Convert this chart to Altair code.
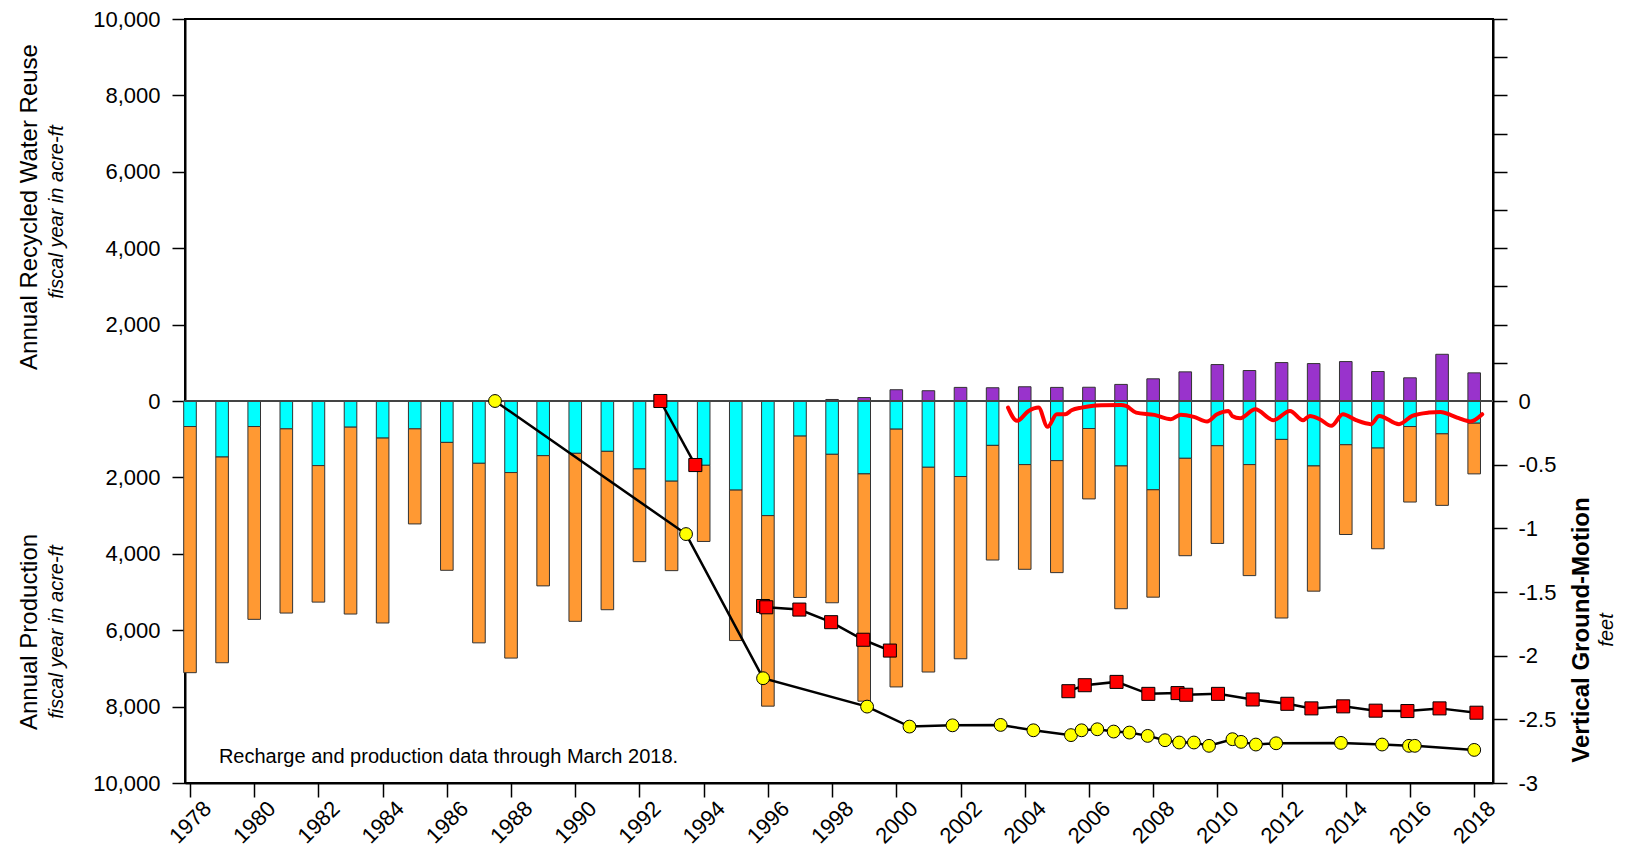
import altair as alt
import pandas as pd

FONT = "Liberation Sans"

# ---------------- data ----------------
years = list(range(1978, 2019))
# cyan portion (acre-ft, plotted downward from 0)
cyan_af = [668, 1466, 668, 729, 1691, 685, 971, 729, 1084, 1631,
           1873, 1431, 1370, 1318, 1778, 2099, 1683, 2333, 3001, 919,
           1396, 1908, 737, 1735, 1977, 1162, 1665, 1561, 720, 1700,
           2324, 1500, 1171, 1665, 1006, 1700, 1145, 1232, 668, 859, 581]
# orange portion (acre-ft, stacked below the cyan portion)
orange_af = [6444, 5386, 5048, 4822, 3574, 4892, 4840, 2489, 3348, 4700,
             4857, 3409, 4398, 4146, 2428, 2342, 1994, 3938, 4987, 4224,
             3886, 5950, 6748, 5360, 4771, 3001, 2741, 2932, 1843, 3738,
             2811, 2550, 2558, 2906, 4675, 3278, 2350, 2636, 1977, 1873, 1327]
# recycled water reuse (purple, upward)
recycled_years = list(range(1998, 2019))
recycled_af = [40, 90, 295, 269, 356, 347, 373, 356, 360, 434, 581,
               763, 954, 798, 1006, 980, 1032, 772, 607, 1223, 737]

# vertical ground motion (feet)
yellow_years = [1987.5, 1993.45, 1995.85, 1999.09, 2000.41, 2001.75, 2003.25,
                2004.27, 2005.44, 2005.77, 2006.26, 2006.77, 2007.26, 2007.83,
                2008.37, 2008.81, 2009.27, 2009.74, 2010.47, 2010.74, 2011.2,
                2011.83, 2013.85, 2015.13, 2015.97, 2016.15, 2018.0]
yellow_ft = [0.0, -1.045, -2.177, -2.40, -2.557, -2.547, -2.544,
             -2.586, -2.624, -2.586, -2.578, -2.596, -2.604, -2.63,
             -2.664, -2.682, -2.682, -2.708, -2.656, -2.677, -2.698,
             -2.688, -2.685, -2.698, -2.708, -2.708, -2.74]

red_seg1_years = [1992.65, 1993.74]
red_seg1_ft = [0.0, -0.503]
red_seg2_years = [1995.85, 1995.95, 1996.98, 1997.97, 1998.97, 1999.8]
red_seg2_ft = [-1.61, -1.62, -1.638, -1.737, -1.875, -1.96]
red_seg3_years = [2005.36, 2005.87, 2006.86, 2007.85, 2008.76, 2009.03, 2010.02,
                  2011.1, 2012.18, 2012.93, 2013.92, 2014.93, 2015.92, 2016.92, 2018.07]
red_seg3_ft = [-2.279, -2.232, -2.206, -2.3, -2.294, -2.307, -2.3,
               -2.344, -2.378, -2.414, -2.398, -2.432, -2.435, -2.414, -2.448]

cont_years = [2003.48, 2003.76, 2004.12, 2004.43, 2004.71, 2005.0, 2005.26, 2005.46,
              2005.77, 2006.08, 2006.39, 2007.0, 2007.16, 2007.47, 2008.04, 2008.55,
              2008.86, 2009.27, 2009.68, 2009.99, 2010.35, 2010.46, 2010.71, 2011.18,
              2011.75, 2012.26, 2012.67, 2012.88, 2013.19, 2013.55, 2013.91, 2014.32,
              2014.78, 2015.04, 2015.66, 2016.07, 2016.59, 2016.95, 2017.26, 2017.52,
              2017.88, 2018.25]
cont_ft = [-0.052, -0.156, -0.078, -0.052, -0.203, -0.104, -0.104, -0.073,
           -0.052, -0.039, -0.034, -0.031, -0.039, -0.091, -0.109, -0.143,
           -0.107, -0.125, -0.161, -0.104, -0.078, -0.117, -0.135, -0.065,
           -0.151, -0.078, -0.151, -0.117, -0.143, -0.195, -0.104, -0.151,
           -0.182, -0.117, -0.182, -0.117, -0.091, -0.086, -0.109, -0.135,
           -0.161, -0.104]

left_title_top = ["Annual Recycled Water Reuse", "fiscal year in acre-ft"]
left_title_bottom = ["Annual Production", "fiscal year in acre-ft"]
right_title = ["Vertical Ground-Motion", "feet"]
note_text = "Recharge and production data through March 2018."

# ---------------- tables ----------------
rows = []
for y, c, o in zip(years, cyan_af, orange_af):
    rows.append({"year": y, "kind": "cyan", "top": 0, "bottom": -c})
    rows.append({"year": y, "kind": "orange", "top": -c, "bottom": -(c + o)})
for y, r in zip(recycled_years, recycled_af):
    rows.append({"year": y, "kind": "purple", "top": 0, "bottom": r})
bars_df = pd.DataFrame(rows)

yellow_df = pd.DataFrame({"year": yellow_years, "ft": yellow_ft, "seg": "y"})
red_df = pd.concat([
    pd.DataFrame({"year": red_seg1_years, "ft": red_seg1_ft, "seg": "r1"}),
    pd.DataFrame({"year": red_seg2_years, "ft": red_seg2_ft, "seg": "r2"}),
    pd.DataFrame({"year": red_seg3_years, "ft": red_seg3_ft, "seg": "r3"}),
])
cont_df = pd.DataFrame({"year": cont_years, "ft": cont_ft})

# ---------------- scales / axes ----------------
xscale = alt.Scale(domain=[1978, 2018.43], nice=False, zero=False)
xaxis = alt.Axis(
    values=years,
    labelExpr="datum.value % 2 == 0 ? toString(datum.value) : ''",
    labelAngle=-45, labelAlign="center", labelBaseline="middle",
    labelPadding=25, labelFlush=False, labelOverlap=False, labelBound=False,
    tickSize={"condition": {"test": "datum.value % 2 == 0", "value": 14}, "value": 7},
    title=None, grid=False, orient="bottom",
)
yscale = alt.Scale(domain=[-10000, 10000], nice=False, zero=False)
yaxis = alt.Axis(
    values=list(range(-10000, 10001, 1000)),
    labelExpr="datum.value % 2000 == 0 ? format(abs(datum.value), ',') : ''",
    tickSize=13, labelPadding=12, title=None, grid=False, orient="left",
    labelBaseline="middle",
)
gscale = alt.Scale(domain=[-3, 3], nice=False, zero=False)
gaxis = alt.Axis(
    values=[-3, -2.5, -2, -1.5, -1, -0.5, 0, 0.3, 0.6, 0.9, 1.2, 1.5, 1.8, 2.1, 2.4, 2.7, 3.0],
    labelExpr="datum.value > 0.01 ? '' : (datum.value < -0.01 ? '-' + toString(abs(datum.value)) : '0')",
    tickSize=14, labelPadding=11, title=None, grid=False, orient="right",
    labelBaseline="middle",
)

X = alt.X("year:Q", scale=xscale, axis=xaxis)

bars = alt.Chart(bars_df).mark_bar(size=12.6, stroke="#333333", strokeWidth=1).encode(
    x=X,
    y=alt.Y("top:Q", scale=yscale, axis=yaxis),
    y2="bottom:Q",
    color=alt.Color("kind:N", scale=alt.Scale(domain=["cyan", "orange", "purple"],
                                              range=["#00FFFF", "#FF9933", "#9933CC"]),
                    legend=None),
)

zero_rule = alt.Chart(pd.DataFrame({"v": [0]})).mark_rule(color="#444444", strokeWidth=2).encode(
    y=alt.Y("v:Q", scale=yscale),
)

note = alt.Chart(pd.DataFrame({"t": [note_text]})).mark_text(
    align="left", baseline="alphabetic", fontSize=20, font=FONT, color="black"
).encode(x=alt.datum(1978.9), y=alt.datum(-9480), text="t:N")


def vtext(txt, px, py, size, style="normal", weight="normal"):
    return alt.Chart(pd.DataFrame({"t": [txt]})).mark_text(
        angle=270, align="center", baseline="middle", fontSize=size, font=FONT,
        fontStyle=style, fontWeight=weight, color="black"
    ).encode(x=alt.value(px), y=alt.value(py), text="t:N")


titles = [
    vtext(left_title_top[0], -155, 188, 24),
    vtext(left_title_top[1], -128, 193, 20, style="italic"),
    vtext(left_title_bottom[0], -155, 613, 24),
    vtext(left_title_bottom[1], -128, 613, 20, style="italic"),
    vtext(right_title[0], 1397, 611, 24, weight="bold"),
    vtext(right_title[1], 1422, 611, 20, style="italic"),
]

left_layer = alt.layer(bars, zero_rule, note, *titles)

GX = alt.X("year:Q", scale=xscale, axis=xaxis)
GY = alt.Y("ft:Q", scale=gscale, axis=gaxis)

cont_line = alt.Chart(cont_df).mark_line(color="#FF0000", strokeWidth=4, interpolate="monotone",
                                         strokeJoin="round", strokeCap="round").encode(x=GX, y=GY)
yellow_line = alt.Chart(yellow_df).mark_line(color="black", strokeWidth=2.5).encode(x=GX, y=GY)
red_line = alt.Chart(red_df).mark_line(color="black", strokeWidth=2.5).encode(x=GX, y=GY, detail="seg:N")
yellow_pts = alt.Chart(yellow_df).mark_point(
    shape="circle", filled=True, fill="#FFFF00", stroke="black", strokeWidth=1, size=165, opacity=1
).encode(x=GX, y=GY)
red_pts = alt.Chart(red_df).mark_point(
    shape="square", filled=True, fill="#FF0000", stroke="black", strokeWidth=1, size=170, opacity=1
).encode(x=GX, y=GY)

right_layer = alt.layer(cont_line, yellow_line, red_line, yellow_pts, red_pts)

chart = alt.layer(left_layer, right_layer).resolve_scale(y="independent").properties(
    width=1308, height=764,
    autosize=alt.AutoSizeParams(type="none"),
    padding={"left": 177, "top": 11, "right": 128, "bottom": 66},
).configure_view(
    stroke="black", strokeWidth=2
).configure_axis(
    labelFont=FONT, labelFontSize=22, labelColor="black",
    domainColor="black", domainWidth=2, tickColor="black", tickWidth=1.5,
)

chart.save("out.html", embed_options={"renderer": "svg", "actions": False})
